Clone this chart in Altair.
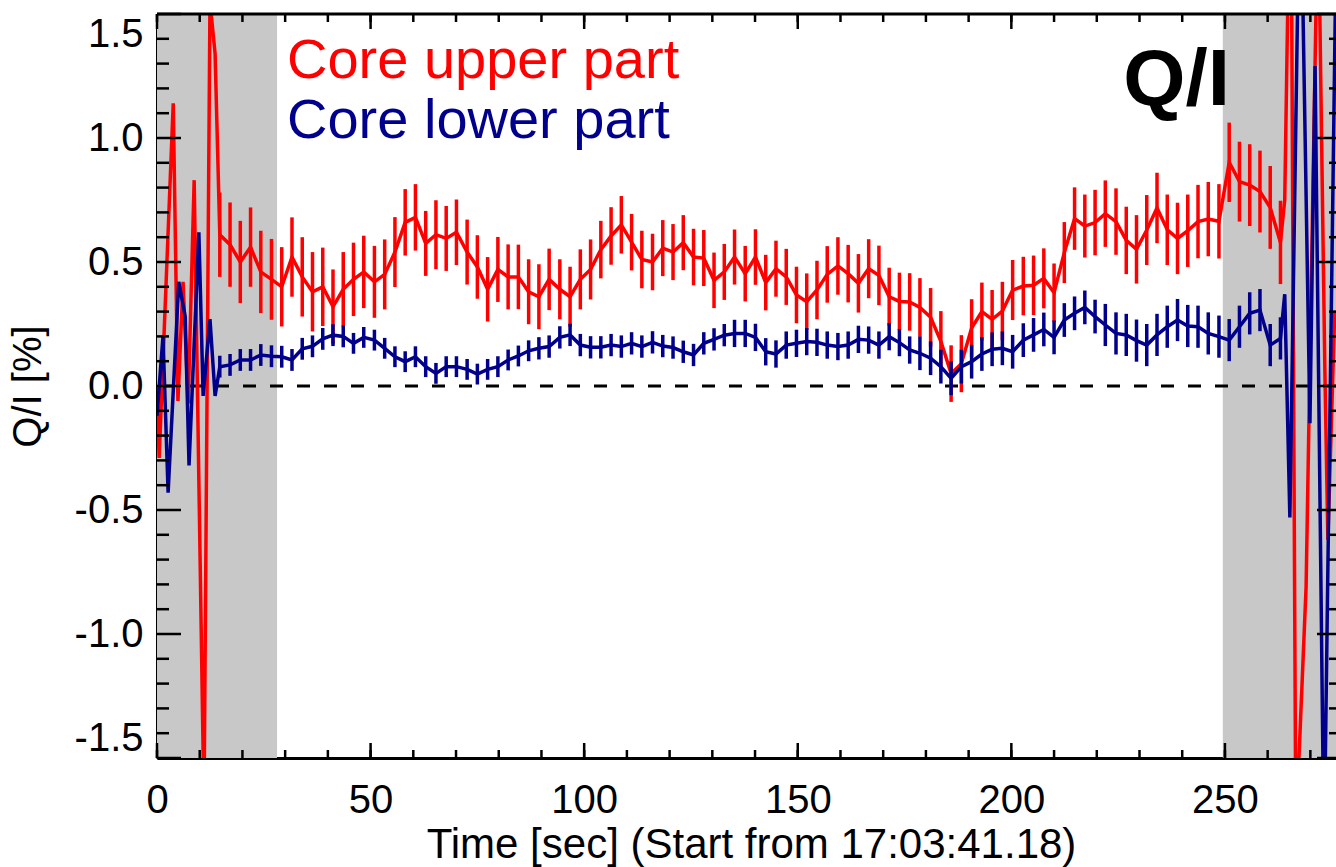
import altair as alt
import pandas as pd

W, H = 1179, 744

# sample times (s) of the points carrying error bars
grid_t = [14.7, 17.1, 19.5, 21.9, 24.3, 26.8, 29.2, 31.6, 34.0, 36.4, 38.8, 41.2, 43.6,
          46.0, 48.4, 50.9, 53.3, 55.7, 58.1, 60.5, 62.9, 65.3, 67.7, 70.1, 72.6, 75.0,
          77.4, 79.8, 82.2, 84.6, 87.0, 89.4, 91.8, 94.3, 96.7, 99.1, 101.5, 103.9, 106.3,
          108.7, 111.1, 113.5, 116.0, 118.4, 120.8, 123.2, 125.6, 128.0, 130.4, 132.8,
          135.2, 137.7, 140.1, 142.5, 144.9, 147.3, 149.7, 152.1, 154.5, 156.9, 159.4,
          161.8, 164.2, 166.6, 169.0, 171.4, 173.8, 176.2, 178.6, 181.1, 183.5, 185.9,
          188.3, 190.7, 193.1, 195.5, 197.9, 200.3, 202.8, 205.2, 207.6, 210.0, 212.4,
          214.8, 217.2, 219.6, 222.0, 224.5, 226.9, 229.3, 231.7, 234.1, 236.5, 238.9,
          241.3, 243.7, 246.1, 248.6, 251.0, 253.4, 255.8, 258.2, 260.6, 263.0]

red_v = [0.61, 0.57, 0.50, 0.56, 0.46, 0.43, 0.40, 0.52, 0.44, 0.38, 0.40, 0.32, 0.39,
         0.43, 0.46, 0.42, 0.45, 0.54, 0.66, 0.68, 0.575, 0.61, 0.595, 0.62, 0.54, 0.48,
         0.39, 0.47, 0.44, 0.44, 0.38, 0.36, 0.43, 0.39, 0.36, 0.43, 0.47, 0.55, 0.605,
         0.65, 0.58, 0.51, 0.50, 0.556, 0.54, 0.578, 0.52, 0.516, 0.426, 0.46, 0.52,
         0.453, 0.52, 0.417, 0.473, 0.44, 0.367, 0.34, 0.387, 0.45, 0.484, 0.453, 0.414,
         0.473, 0.446, 0.36, 0.341, 0.339, 0.317, 0.277, 0.18, 0.05, 0.09, 0.234, 0.30,
         0.269, 0.302, 0.387, 0.403, 0.406, 0.434, 0.376, 0.538, 0.675, 0.645, 0.659,
         0.695, 0.663, 0.587, 0.551, 0.629, 0.718, 0.63, 0.595, 0.626, 0.663, 0.673,
         0.664, 0.902, 0.824, 0.81, 0.784, 0.72, 0.579]
red_err = [0.17, 0.17, 0.166, 0.16, 0.166, 0.163, 0.16,
           0.16, 0.16, 0.16, 0.158, 0.15, 0.15,
           0.148, 0.146, 0.145, 0.141, 0.141, 0.134, 0.134, 0.131, 0.139, 0.131, 0.132,
           0.131, 0.128, 0.13, 0.131, 0.131, 0.13, 0.131,
           0.131, 0.124, 0.121, 0.121, 0.121, 0.121, 0.116, 0.116, 0.116, 0.114, 0.116,
           0.114, 0.113, 0.113, 0.111, 0.114, 0.113, 0.112, 0.113,
           0.111, 0.112, 0.112, 0.112, 0.113, 0.113, 0.114, 0.114, 0.118, 0.114, 0.116,
           0.116, 0.118, 0.119, 0.12, 0.117, 0.116, 0.116,
           0.118, 0.118, 0.122, 0.114, 0.115, 0.116, 0.117, 0.118, 0.118, 0.121, 0.118,
           0.12, 0.121, 0.118, 0.123, 0.126, 0.127, 0.132,
           0.134, 0.134, 0.136, 0.138, 0.141, 0.142, 0.142, 0.144, 0.146, 0.148, 0.15,
           0.15, 0.16, 0.161, 0.165, 0.165, 0.167, 0.168]

blue_v = [0.078, 0.085, 0.105, 0.105, 0.125, 0.12, 0.118, 0.105, 0.15, 0.16, 0.19, 0.205,
          0.20, 0.172, 0.196, 0.185, 0.152, 0.118, 0.098, 0.118, 0.078, 0.051, 0.078,
          0.078, 0.067, 0.048, 0.067, 0.078, 0.105, 0.121, 0.142, 0.152, 0.159, 0.196,
          0.206, 0.165, 0.156, 0.156, 0.165, 0.159, 0.172, 0.159, 0.176, 0.161, 0.155,
          0.138, 0.125, 0.172, 0.188, 0.205, 0.212, 0.212, 0.196, 0.138, 0.129, 0.165,
          0.172, 0.179, 0.176, 0.165, 0.159, 0.165, 0.188, 0.185, 0.165, 0.199, 0.175,
          0.145, 0.132, 0.112, 0.078, 0.031, 0.078, 0.098, 0.129, 0.148, 0.152, 0.138,
          0.185, 0.206, 0.228, 0.196, 0.266, 0.293, 0.317, 0.28, 0.246, 0.212, 0.206,
          0.183, 0.165, 0.206, 0.239, 0.266, 0.242, 0.239, 0.212, 0.199, 0.185, 0.239,
          0.293, 0.306, 0.165, 0.192]
blue_err = ([0.044] * 13) + ([0.042] * 18) + ([0.045] * 19) + ([0.055] * 18) + \
           ([0.068] * 18) + ([0.085] * 18)

# noisy edge samples (no error bars)
red_start_t = [0.0, 0.5, 3.8, 4.9, 6.1, 7.3, 8.7, 11.0, 12.4, 13.6]
red_start_v = [0.0, -0.29, 1.14, -0.06, 0.42, -0.07, 0.83, -1.7, 1.55, 1.34]
red_end_t = [264.0, 265.4, 266.6, 269.0, 271.8, 273.4, 274.1, 275.7]
red_end_v = [0.75, 2.3, -1.8, -0.81, 2.0, 0.06, -0.62, 0.3]

blue_start_t = [0.0, 1.4, 2.6, 5.1, 6.6, 7.5, 9.8, 10.8, 12.4, 13.6]
blue_start_v = [-0.12, 0.2, -0.43, 0.42, 0.28, -0.32, 0.62, -0.04, 0.27, -0.04]
blue_end_t = [264.0, 265.2, 267.6, 269.9, 271.1, 273.2, 275.9]
blue_end_v = [0.37, -0.53, 2.2, -0.15, 1.29, -1.9, 1.6]

shade_start = [0.0, 249.5]
shade_end = [28.1, 276.0]

x_major = [0, 50, 100, 150, 200, 250]
x_minor = [0, 10, 20, 30, 40, 50, 60, 70, 80, 90, 100, 110, 120, 130, 140, 150, 160,
           170, 180, 190, 200, 210, 220, 230, 240, 250, 260, 270]
y_major = [-1.5, -1.0, -0.5, 0.0, 0.5, 1.0, 1.5]
y_minor = [-1.4, -1.3, -1.2, -1.1, -0.9, -0.8, -0.7, -0.6, -0.4, -0.3, -0.2, -0.1,
           0.1, 0.2, 0.3, 0.4, 0.6, 0.7, 0.8, 0.9, 1.1, 1.2, 1.3, 1.4]

RED = "#FF0000"
BLUE = "#00008C"
FONT = "Liberation Sans"
LW = 3.5

xs = alt.Scale(domain=[0, 276], nice=False, zero=False)
ys = alt.Scale(domain=[-1.5, 1.5], nice=False, zero=False)

red_line_df = pd.DataFrame({"t": red_start_t + grid_t + red_end_t,
                            "v": red_start_v + red_v + red_end_v})
blue_line_df = pd.DataFrame({"t": blue_start_t + grid_t + blue_end_t,
                             "v": blue_start_v + blue_v + blue_end_v})
red_bar_df = pd.DataFrame({"t": grid_t,
                           "lo": [v - e for v, e in zip(red_v, red_err)],
                           "hi": [v + e for v, e in zip(red_v, red_err)]})
blue_bar_df = pd.DataFrame({"t": grid_t,
                            "lo": [v - e for v, e in zip(blue_v, blue_err)],
                            "hi": [v + e for v, e in zip(blue_v, blue_err)]})
shade_df = pd.DataFrame({"t": shade_start, "t2": shade_end})

X_TITLE = "Time [sec] (Start from 17:03:41.18)"
Y_TITLE = "Q/I [%]"

x_axis = alt.Axis(values=x_major, format="d", labelFont=FONT, labelFontSize=40,
                  labelColor="black", labelFlush=False, labelOverlap=False,
                  labelBaseline="alphabetic", labelPadding=54, ticks=False, tickSize=0,
                  grid=False, domain=True, domainColor="black", domainWidth=3,
                  titleFont=FONT, titleFontSize=42, titleFontWeight="normal",
                  titleColor="black", titleBaseline="alphabetic", titleAlign="center",
                  titleX=594, titleY=99)
y_axis = alt.Axis(values=y_major, labelFont=FONT, labelFontSize=40, labelColor="black",
                  labelExpr="datum.value < 0 ? '-' + format(-datum.value, '.1f') : format(datum.value, '.1f')",
                  labelFlush=True, labelOverlap=False, labelPadding=14, ticks=False,
                  tickSize=0, grid=False, domain=True, domainColor="black", domainWidth=3,
                  titleFont=FONT, titleFontSize=40, titleFontWeight="normal",
                  titleColor="black", titleAngle=-90, titleAlign="center",
                  titleBaseline="middle", titleX=-129, titleY=372)


def X(field):
    return alt.X(field, type="quantitative", scale=xs, axis=x_axis, title=X_TITLE)


def Y(field):
    return alt.Y(field, type="quantitative", scale=ys, axis=y_axis, title=Y_TITLE)


shade = alt.Chart(shade_df).mark_rect(color="#c8c8c8").encode(
    x=X("t"), x2="t2:Q", y=alt.value(0), y2=alt.value(H))

zero_line = alt.Chart(pd.DataFrame({"v": [0.0]})).mark_rule(
    color="black", strokeWidth=3, strokeDash=[13, 14]).encode(y=Y("v"))

red_line = alt.Chart(red_line_df).mark_line(color=RED, strokeWidth=LW, clip=True).encode(
    x=X("t"), y=Y("v"))
red_bars = alt.Chart(red_bar_df).mark_rule(color=RED, strokeWidth=LW, clip=True).encode(
    x=X("t"), y=Y("lo"), y2="hi:Q")
blue_line = alt.Chart(blue_line_df).mark_line(color=BLUE, strokeWidth=LW, clip=True).encode(
    x=X("t"), y=Y("v"))
blue_bars = alt.Chart(blue_bar_df).mark_rule(color=BLUE, strokeWidth=LW, clip=True).encode(
    x=X("t"), y=Y("lo"), y2="hi:Q")

xmaj_df = pd.DataFrame({"t": x_major})
xmin_df = pd.DataFrame({"t": x_minor})
ymaj_df = pd.DataFrame({"v": y_major})
ymin_df = pd.DataFrame({"v": y_minor})


def xticks(df, y0, y1):
    return alt.Chart(df).mark_rule(color="black", strokeWidth=2.5).encode(
        x=X("t"), y=alt.value(y0), y2=alt.value(y1))


def yticks(df, x0, x1):
    return alt.Chart(df).mark_rule(color="black", strokeWidth=2.5).encode(
        y=Y("v"), x=alt.value(x0), x2=alt.value(x1))


ticks = [
    xticks(xmaj_df, H, H - 15), xticks(xmin_df, H, H - 8),
    xticks(xmaj_df, 0, 15), xticks(xmin_df, 0, 8),
    yticks(ymaj_df, 0, 24), yticks(ymin_df, 0, 12),
    yticks(ymaj_df, W, W - 19), yticks(ymin_df, W, W - 7),
]

top_border = alt.Chart(pd.DataFrame({"k": [0]})).mark_rule(
    color="black", strokeWidth=3).encode(
    x=alt.value(0), x2=alt.value(W), y=alt.value(0))

upper_txt = alt.Chart(pd.DataFrame({"txt": ["Core upper part"]})).mark_text(
    font=FONT, fontSize=56, align="left", baseline="alphabetic", color=RED).encode(
    x=alt.value(130), y=alt.value(64), text="txt:N")
lower_txt = alt.Chart(pd.DataFrame({"txt": ["Core lower part"]})).mark_text(
    font=FONT, fontSize=56, align="left", baseline="alphabetic", color=BLUE).encode(
    x=alt.value(130), y=alt.value(124), text="txt:N")

qi = alt.Chart(pd.DataFrame({"txt": ["Q/I"]})).mark_text(
    font=FONT, fontSize=80, fontWeight="bold", align="right", baseline="alphabetic",
    color="black").encode(x=alt.value(1073), y=alt.value(91), text="txt:N")

chart = alt.layer(shade, zero_line, red_line, red_bars, blue_line, blue_bars,
                  *ticks, top_border, upper_txt, lower_txt, qi).properties(
    width=W, height=H,
    autosize=alt.AutoSizeParams(type="none"),
    padding={"left": 157, "top": 14, "right": 0, "bottom": 109},
).configure_view(stroke=None).configure(background="white")

chart.save("out.html", embed_options={"renderer": "svg", "actions": False})
